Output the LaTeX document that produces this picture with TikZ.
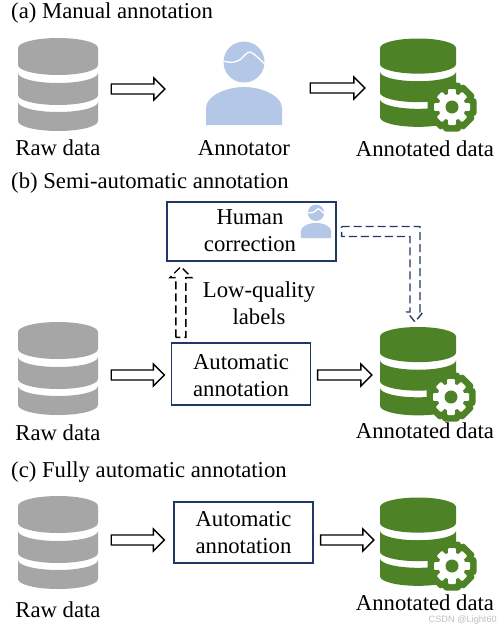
\documentclass[tikz,border=0pt]{standalone}
\usepackage{fontspec}
\setmainfont{Liberation Serif}
\setsansfont{Liberation Sans}
\usepackage{xcolor}
\definecolor{dbgray}{RGB}{166, 166, 166}
\definecolor{dbgreen}{RGB}{78, 130, 38}
\definecolor{personblue}{RGB}{180, 199, 231}
\definecolor{boxnavy}{RGB}{31, 56, 100}
\usetikzlibrary{
    positioning,
    calc
}
\tikzset{
    dbicon/.pic={
        \fill (-40,0) arc[start angle=180, end angle=360, x radius=40, y radius=10] -- (40,17)
            arc[start angle=0, end angle=180, x radius=40, y radius=10] -- cycle;
        \fill (-40,25) arc[start angle=180, end angle=0, x radius=40, y radius=10] -- (40,47)
            arc[start angle=0, end angle=180, x radius=40, y radius=10] -- cycle;
        \fill (-40,54) arc[start angle=180, end angle=0, x radius=40, y radius=10] -- (40,73)
            arc[start angle=0, end angle=180, x radius=40, y radius=10] -- cycle;
    },
    gearicon/.pic={
        \fill[dbgreen] (0,0) circle (23);
        \foreach \ang in {0,45,...,315} {
            \fill[dbgreen, rotate=\ang, rounded corners=3pt] (-9,-24.5) rectangle (9,0);
        }
        \fill[white] (0,0) circle (13.5);
        \foreach \ang in {0,45,...,315} {
            \fill[white, rotate=\ang, rounded corners=1pt] (-3.8,-18) rectangle (3.8,0);
        }
        \fill[dbgreen] (0,0) circle (6.5);
    },
    personicon/.pic={
        \fill[personblue] (-38,41) -- (-38,24) .. controls (-38,12) and (-18,3) .. (0,3)
            .. controls (18,3) and (38,12) .. (38,24) -- (38,41) -- cycle;
        \fill[personblue] (0,-22) circle (20.5);
        \draw[white, line width=1.3pt] (-21,-23) .. controls (-14,-21) and (-8,-21) .. (-3,-25)
            .. controls (0,-28) and (3,-32) .. (6,-32) .. controls (10,-31) and (15,-25) .. (21,-20);
    }
}
\begin{document}
\begin{tikzpicture}[
    x=1pt, y=-1pt,
    every text node part/.style={align=center},
    lbl/.style={inner sep=0pt, font=\fontsize{22.7}{27}\selectfont},
    heading/.style={lbl, anchor=west},
    iconbox/.style={inner sep=0pt, minimum width=80pt, minimum height=90pt},
    flowbox/.style={draw=boxnavy, line width=1.3pt, fill=white, inner sep=0pt},
    blockarrow/.style={draw=black, line width=1.4pt, to path={
        ($(\tikztostart)!5pt!90:(\tikztotarget)$)
        -- ($(\tikztotarget)!11pt!(\tikztostart)!5pt!-90:(\tikztostart)$)
        -- ($(\tikztotarget)!11pt!(\tikztostart)!11pt!-90:(\tikztostart)$)
        -- (\tikztotarget)
        -- ($(\tikztotarget)!11pt!(\tikztostart)!11pt!90:(\tikztostart)$)
        -- ($(\tikztotarget)!11pt!(\tikztostart)!5pt!90:(\tikztostart)$)
        -- ($(\tikztostart)!5pt!-90:(\tikztotarget)$)
        -- cycle}},
    dashline/.style={line width=1.4pt, dash pattern=on 8pt off 4pt}
]

% ==================== (a) MANUAL ====================
\useasboundingbox (0,0) rectangle (500,630);
\node[heading] (title_a) at (11,13.5) {(a) Manual annotation};

\node[iconbox] (raw_a) at (58,85) {};
\pic[dbgray, fill=dbgray] at (58,48) {dbicon};
\node[lbl] (rawlbl_a) at (58,148) {Raw data};

\node[iconbox] (person_a) at (244,84) {};
\pic at (244,84) {personicon};
\node[lbl] (personlbl_a) at (244,148) {Annotator};

\node[iconbox] (done_a) at (418,85) {};
\pic[dbgreen, fill=dbgreen, scale=0.95] at (418,48) {dbicon};
\pic at (452,107) {gearicon};
\node[lbl] (donelbl_a) at (425,149) {Annotated data};

\draw[blockarrow] ($(raw_a.east)+(13,4)$) to ($(person_a.west)+(-39,5)$);
\draw[blockarrow] ($(person_a.east)+(26,4)$) to ($(done_a.west)+(-13,3)$);

% ==================== (b) SEMI-AUTOMATIC ====================
\node[heading] (title_b) at (11,183.5) {(b) Semi-automatic annotation};

\node[flowbox, minimum width=169pt, minimum height=59pt] (human) at (251.5,231.5) {};
\node[lbl] (humantext) at (250,230.5) {Human\\correction};
\pic[scale=0.4] at (316,221.6) {personicon};

\node[lbl] (lowq) at (259,303.5) {Low-quality\\labels};

\node[iconbox] (raw_b) at (58,369) {};
\pic[dbgray, fill=dbgray] at (58,332) {dbicon};
\node[lbl] (rawlbl_b) at (58,433) {Raw data};

\node[flowbox, minimum width=139pt, minimum height=62pt] (auto_b) at (241,374) {};
\node[lbl] (autotext_b) at (241,375.5) {Automatic\\annotation};

\node[iconbox] (done_b) at (418,369) {};
\pic[dbgreen, fill=dbgreen, scale=0.95] at (418,336.5) {dbicon};
\pic at (451,397) {gearicon};
\node[lbl] (donelbl_b) at (425,431) {Annotated data};

\draw[blockarrow] ($(raw_b.east)+(13,6)$) to ($(auto_b.west)+(-6.5,1)$);
\draw[blockarrow] ($(auto_b.east)+(6.5,1)$) to ($(done_b.west)+(-6,6)$);
\draw[blockarrow, dashline] ($(auto_b.north west)+(10,-5)$) to ($(human.south west)+(14.5,5)$);

\coordinate (corr_start) at ($(human.east)+(5,0)$);
\coordinate (corr_tip) at (415,322);
\draw[dashline, draw=boxnavy] ($(corr_start)+(0,-5)$) -| ($(corr_tip)+(5,-10)$) -- ++(3,0) -- (corr_tip)
    -- ++(-8,-10) -- ++(3,0) |- ($(corr_start)+(0,5)$) -- cycle;

% ==================== (c) FULLY AUTOMATIC ====================
\node[heading] (title_c) at (11,472) {(c) Fully automatic annotation};

\node[iconbox] (raw_c) at (58,535) {};
\pic[dbgray, fill=dbgray] at (58,506) {dbicon};
\node[lbl] (rawlbl_c) at (58,610) {Raw data};

\node[flowbox, minimum width=139pt, minimum height=61pt] (auto_c) at (243.5,532.5) {};
\node[lbl] (autotext_c) at (243.5,533) {Automatic\\annotation};

\node[iconbox] (done_c) at (418,540) {};
\pic[dbgreen, fill=dbgreen, scale=0.95] at (418,507) {dbicon};
\pic at (452,566) {gearicon};
\node[lbl] (donelbl_c) at (425,602.5) {Annotated data};

\draw[blockarrow] ($(raw_c.east)+(13,5)$) to ($(auto_c.west)+(-9,7.5)$);
\draw[blockarrow] ($(auto_c.east)+(7,7.5)$) to ($(done_c.west)+(-4,0)$);

\node[inner sep=0pt, anchor=east, text=black!25, font=\sffamily\fontsize{9.2}{11}\selectfont] (mark) at (497,620.5) {CSDN @Light60};

\end{tikzpicture}
\end{document}
